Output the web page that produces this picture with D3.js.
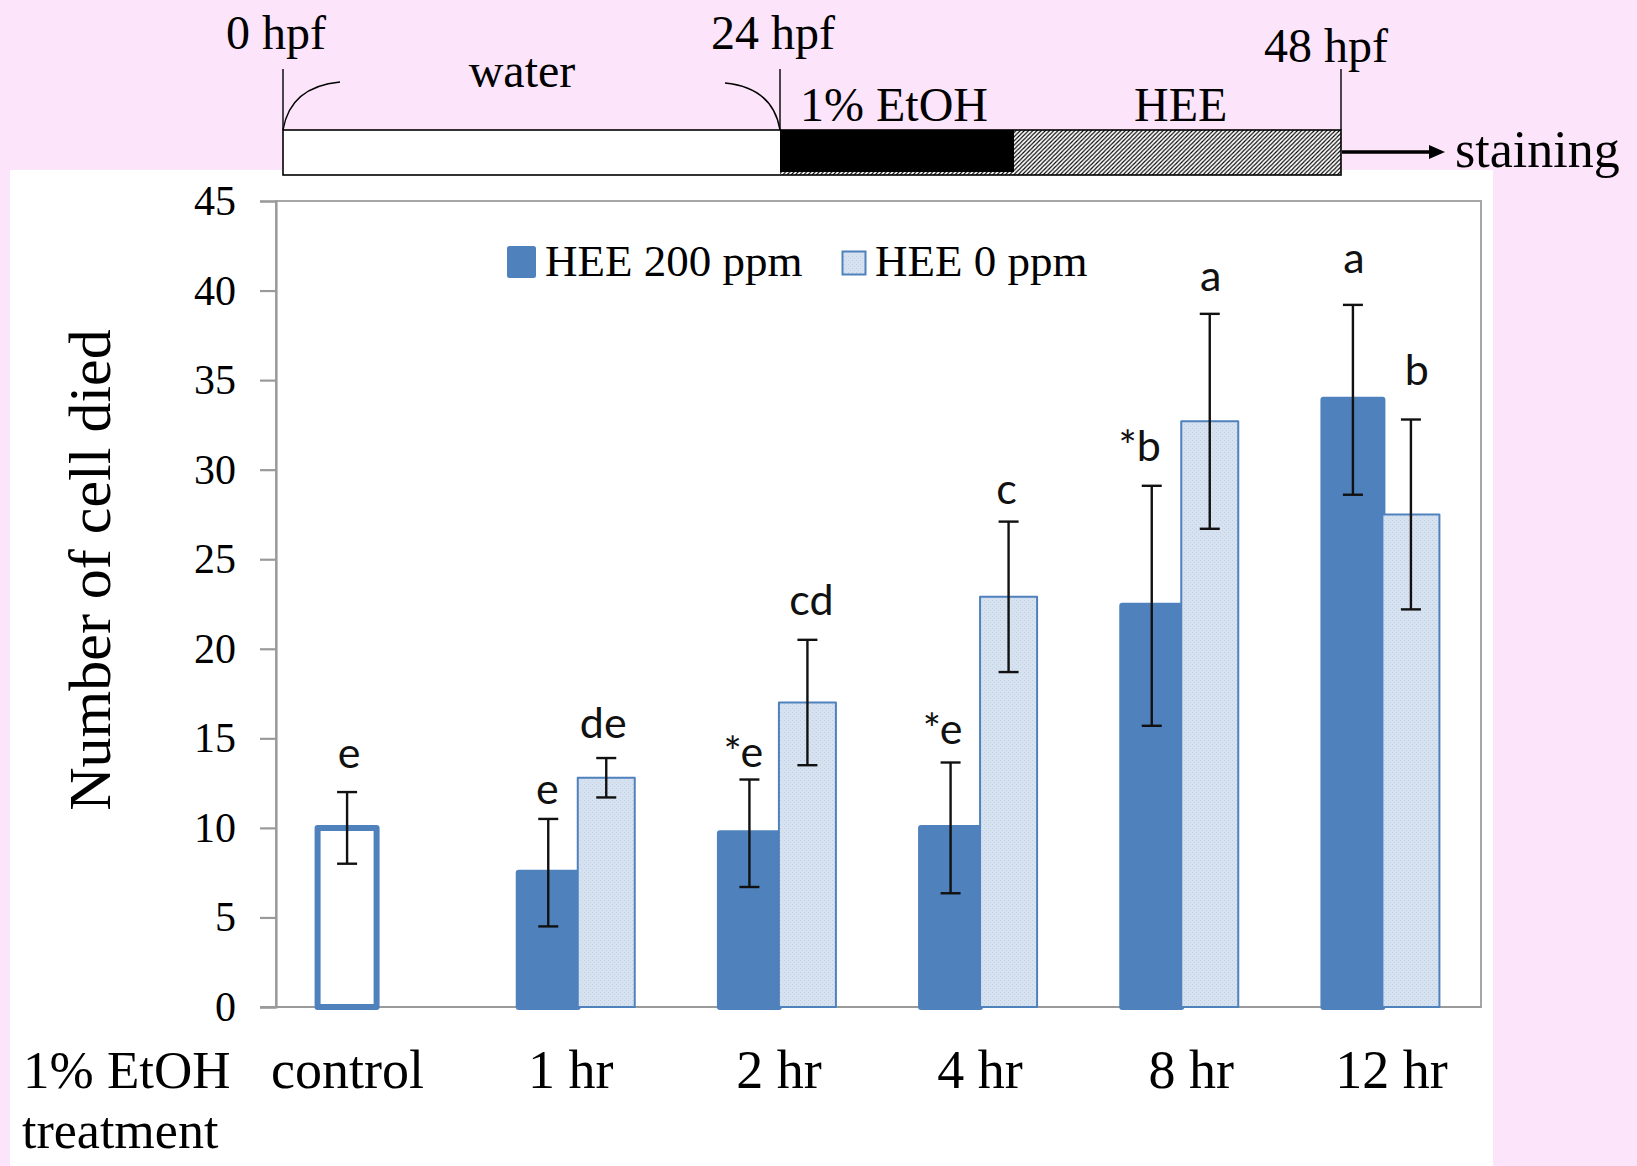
<!DOCTYPE html>
<html>
<head>
<meta charset="utf-8">
<script src="https://cdn.jsdelivr.net/npm/d3@7"></script>
<style>
  html, body { margin: 0; padding: 0; background: #FCE5FA; }
  svg { display: block; }
</style>
</head>
<body>
<svg id="fig" width="1637" height="1166"></svg>
<script>
// ---- data ----
const categories = ["control", "1 hr", "2 hr", "4 hr", "8 hr", "12 hr"];
const seriesNames = ["HEE 200 ppm", "HEE 0 ppm"];
const controlMean = [10.0];
const controlErr = [2.0];
const controlLetters = ["e"];
const hee200Mean = [null, 7.5, 9.7, 10.0, 22.4, 33.9];
const hee200Err = [null, 3.0, 3.0, 3.65, 6.7, 5.3];
const hee200Letters = [null, "e", "*e", "*e", "*b", "a"];
const hee0Mean = [null, 12.8, 17.0, 22.9, 32.7, 27.5];
const hee0Err = [null, 1.1, 3.5, 4.2, 6.0, 5.3];
const hee0Letters = [null, "de", "cd", "c", "a", "b"];
const yTicks = [0, 5, 10, 15, 20, 25, 30, 35, 40, 45];
const timelineHours = [0, 24, 48];
const timelineLabels = ["0 hpf", "24 hpf", "48 hpf"];
const phaseLabels = ["water", "1% EtOH", "HEE"];

// ---- layout ----
const W = 1637, H = 1166;
const plot = { left: 276, right: 1483, top: 201, bottom: 1007, frameRight: 1481 };
const blue = "#4F81BD";
const axisGray = "#9A9A9A";
const serif = "'Liberation Serif', 'Times New Roman', serif";
const sans = "Lato, 'Open Sans', sans-serif";
// small hand nudges for the significance letters [dx, dy]
const nudgeControl = [[2, -4]];
const nudge200 = [null, [-1, 5], [-6, 7], [-8, 1], [-12, -5], [1, -12]];
const nudge0 = [null, [-3, 0], [4, -5], [-2, 2], [1, -3], [6, -15]];
// horizontal nudges for the category labels
const catLabelDx = [-29, -7, 0, 0, 10, 9];

const svg = d3.select("#fig");
const defs = svg.append("defs");

// speckled light-blue fill for the HEE 0 ppm bars
const speck = defs.append("pattern").attr("id", "speck")
  .attr("patternUnits", "userSpaceOnUse").attr("width", 4).attr("height", 4);
speck.append("rect").attr("width", 4).attr("height", 4).attr("fill", "#D7E2F0");
speck.append("rect").attr("x", 0).attr("y", 0).attr("width", 1).attr("height", 1).attr("fill", "#BFCFE4");
speck.append("rect").attr("x", 2).attr("y", 2).attr("width", 1).attr("height", 1).attr("fill", "#C6D4E8");

// diagonal hatch for the HEE phase of the timeline
const hatch = defs.append("pattern").attr("id", "hatch")
  .attr("patternUnits", "userSpaceOnUse").attr("width", 4.2).attr("height", 4.2);
hatch.append("rect").attr("width", 4.2).attr("height", 4.2).attr("fill", "#fff");
hatch.append("path").attr("d", "M-1,1 l2,-2 M0,4.2 l4.2,-4.2 M3.2,5.2 l2,-2")
  .attr("stroke", "#000").attr("stroke-width", 1.15);

// page background and white chart panel
svg.append("rect").attr("width", W).attr("height", H).attr("fill", "#FCE5FA");
svg.append("rect").attr("x", 10).attr("y", 170).attr("width", 1483).attr("height", H - 170).attr("fill", "#fff");

// ---- treatment timeline ----
const tl = d3.scaleLinear().domain(timelineHours).range([283, 780, 1341]);
const barTop = 130, barBot = 175;
const etohEnd = 1014;
const gT = svg.append("g");
gT.append("rect").attr("x", tl(0)).attr("y", barTop).attr("width", tl(24) - tl(0)).attr("height", barBot - barTop).attr("fill", "#fff");
gT.append("rect").attr("x", tl(24)).attr("y", barTop).attr("width", tl(48) - tl(24)).attr("height", barBot - barTop).attr("fill", "url(#hatch)");
gT.append("rect").attr("x", tl(24)).attr("y", barTop).attr("width", etohEnd - tl(24)).attr("height", barBot - barTop - 3).attr("fill", "#000");
gT.append("rect").attr("x", tl(0)).attr("y", barTop).attr("width", tl(48) - tl(0)).attr("height", barBot - barTop)
  .attr("fill", "none").attr("stroke", "#000").attr("stroke-width", 1.6);
timelineHours.forEach(h => {
  gT.append("line").attr("x1", tl(h)).attr("x2", tl(h)).attr("y1", 69).attr("y2", barTop)
    .attr("stroke", "#000").attr("stroke-width", 1.4);
});
// brackets of the water phase
gT.append("path").attr("d", `M${tl(0)},${barTop} C${tl(0) + 5},100 ${tl(0) + 25},85 ${tl(0) + 57},82`)
  .attr("fill", "none").attr("stroke", "#000").attr("stroke-width", 1.4);
gT.append("path").attr("d", `M${tl(24) - 55},83 C${tl(24) - 25},86 ${tl(24) - 5},100 ${tl(24)},${barTop}`)
  .attr("fill", "none").attr("stroke", "#000").attr("stroke-width", 1.4);

const hourLabelPos = [[226, 49], [711, 49], [1264, 62]];
timelineLabels.forEach((t, i) => {
  gT.append("text").attr("x", hourLabelPos[i][0]).attr("y", hourLabelPos[i][1])
    .attr("font-family", serif).attr("font-size", 48).attr("fill", "#000").text(t);
});
const phasePos = [[522, 87, "middle"], [800, 121, "start"], [1134, 121, "start"]];
phaseLabels.forEach((t, i) => {
  gT.append("text").attr("x", phasePos[i][0]).attr("y", phasePos[i][1]).attr("text-anchor", phasePos[i][2])
    .attr("font-family", serif).attr("font-size", 48).attr("fill", "#000").text(t);
});
// arrow to staining
gT.append("line").attr("x1", tl(48) + 1).attr("x2", 1431).attr("y1", 152).attr("y2", 152)
  .attr("stroke", "#000").attr("stroke-width", 3.6);
gT.append("path").attr("d", "M1445,152 L1429,145 L1429,159 Z").attr("fill", "#000");
gT.append("text").attr("x", 1455).attr("y", 167).attr("font-family", serif).attr("font-size", 52)
  .attr("fill", "#000").text("staining");

// ---- bar chart ----
const x = d3.scaleBand().domain(categories).range([plot.left, plot.right]).padding(0);
const bw = x.bandwidth();
const xSub = d3.scaleBand().domain(seriesNames).range([bw / 2 - 59, bw / 2 + 59]).padding(0);
const y = d3.scaleLinear().domain([0, 45]).range([plot.bottom, plot.top]);

const g = svg.append("g");

// plot frame
g.append("rect").attr("x", plot.left).attr("y", plot.top)
  .attr("width", plot.frameRight - plot.left).attr("height", plot.bottom - plot.top)
  .attr("fill", "none").attr("stroke", "#A6A6A6").attr("stroke-width", 2);

// y axis
const yAxis = g.append("g").attr("transform", `translate(${plot.left},0)`)
  .call(d3.axisLeft(y).tickValues(yTicks).tickSize(16).tickPadding(24).tickFormat(d3.format("d")));
yAxis.select(".domain").attr("stroke", axisGray).attr("stroke-width", 2.2);
yAxis.selectAll(".tick line").attr("stroke", axisGray).attr("stroke-width", 2.2);
yAxis.selectAll(".tick text").attr("font-family", serif).attr("font-size", 42).attr("fill", "#000");

// x axis baseline
g.append("line").attr("x1", plot.left - 16).attr("x2", plot.frameRight).attr("y1", y(0)).attr("y2", y(0))
  .attr("stroke", axisGray).attr("stroke-width", 2.2);

// category labels
const xAxis = g.append("g").attr("transform", `translate(0,${y(0)})`)
  .call(d3.axisBottom(x).tickSize(0));
xAxis.select(".domain").remove();
xAxis.selectAll(".tick text").attr("y", 81).attr("dy", 0)
  .attr("x", (d, i) => catLabelDx[i])
  .attr("font-family", serif).attr("font-size", 54).attr("fill", "#000");

g.append("text").attr("x", 23).attr("y", 1088).attr("font-family", serif).attr("font-size", 53)
  .attr("fill", "#000").text("1% EtOH");
g.append("text").attr("x", 22).attr("y", 1148).attr("font-family", serif).attr("font-size", 52)
  .attr("fill", "#000").text("treatment");

// y axis title
g.append("text").attr("transform", "translate(110,570) rotate(-90)").attr("text-anchor", "middle")
  .attr("font-family", serif).attr("font-size", 60).attr("fill", "#000").text("Number of cell died");

// build bar records
const bars = [];
controlMean.forEach((v, i) => bars.push({ cat: categories[0], s: seriesNames[0], v, e: controlErr[i], lab: controlLetters[i], nudge: nudgeControl[i], kind: "control" }));
categories.forEach((c, i) => {
  if (hee200Mean[i] != null) bars.push({ cat: c, s: seriesNames[0], v: hee200Mean[i], e: hee200Err[i], lab: hee200Letters[i], nudge: nudge200[i], kind: "dark" });
  if (hee0Mean[i] != null) bars.push({ cat: c, s: seriesNames[1], v: hee0Mean[i], e: hee0Err[i], lab: hee0Letters[i], nudge: nudge0[i], kind: "light" });
});
const order = { dark: 0, control: 0, light: 1 };
bars.sort((a, b) => order[a.kind] - order[b.kind]);

const barW = d => d.kind === "light" ? xSub.bandwidth() - 2 : xSub.bandwidth();
const cx = d => x(d.cat) + xSub(d.s) + barW(d) / 2;

g.selectAll("rect.bar").data(bars).enter().append("rect").attr("class", "bar")
  .attr("x", d => x(d.cat) + xSub(d.s))
  .attr("y", d => y(d.v))
  .attr("width", barW)
  .attr("height", d => y(0) - y(d.v))
  .attr("fill", d => d.kind === "control" ? "#fff" : d.kind === "dark" ? blue : "url(#speck)")
  .attr("stroke", blue)
  .attr("stroke-width", d => d.kind === "light" ? 2 : 6)
  .attr("stroke-linejoin", "round");

// error bars
const cap = 10;
const eb = g.selectAll("g.err").data(bars).enter().append("g").attr("class", "err")
  .attr("stroke", "#111").attr("stroke-width", 2.4);
eb.append("line").attr("x1", cx).attr("x2", cx).attr("y1", d => y(d.v - d.e)).attr("y2", d => y(d.v + d.e));
eb.append("line").attr("x1", d => cx(d) - cap).attr("x2", d => cx(d) + cap).attr("y1", d => y(d.v + d.e)).attr("y2", d => y(d.v + d.e));
eb.append("line").attr("x1", d => cx(d) - cap).attr("x2", d => cx(d) + cap).attr("y1", d => y(d.v - d.e)).attr("y2", d => y(d.v - d.e));

// significance letters
g.selectAll("text.sig").data(bars.filter(d => d.lab)).enter().append("text").attr("class", "sig")
  .attr("x", d => cx(d) + d.nudge[0])
  .attr("y", d => y(d.v + d.e) - 20 + d.nudge[1])
  .attr("text-anchor", "middle")
  .attr("font-family", sans).attr("font-size", 43).attr("fill", "#111")
  .text(d => d.lab);

// legend
const lg = g.append("g");
lg.append("rect").attr("x", 509.5).attr("y", 248.5).attr("width", 24).attr("height", 27)
  .attr("fill", blue).attr("stroke", blue).attr("stroke-width", 5).attr("stroke-linejoin", "round");
lg.append("text").attr("x", 545).attr("y", 276).attr("font-family", serif).attr("font-size", 45)
  .attr("fill", "#000").text(seriesNames[0]);
lg.append("rect").attr("x", 842.5).attr("y", 251.5).attr("width", 23).attr("height", 23)
  .attr("fill", "url(#speck)").attr("stroke", blue).attr("stroke-width", 2);
lg.append("text").attr("x", 875).attr("y", 276).attr("font-family", serif).attr("font-size", 45)
  .attr("fill", "#000").text(seriesNames[1]);
</script>
</body>
</html>
